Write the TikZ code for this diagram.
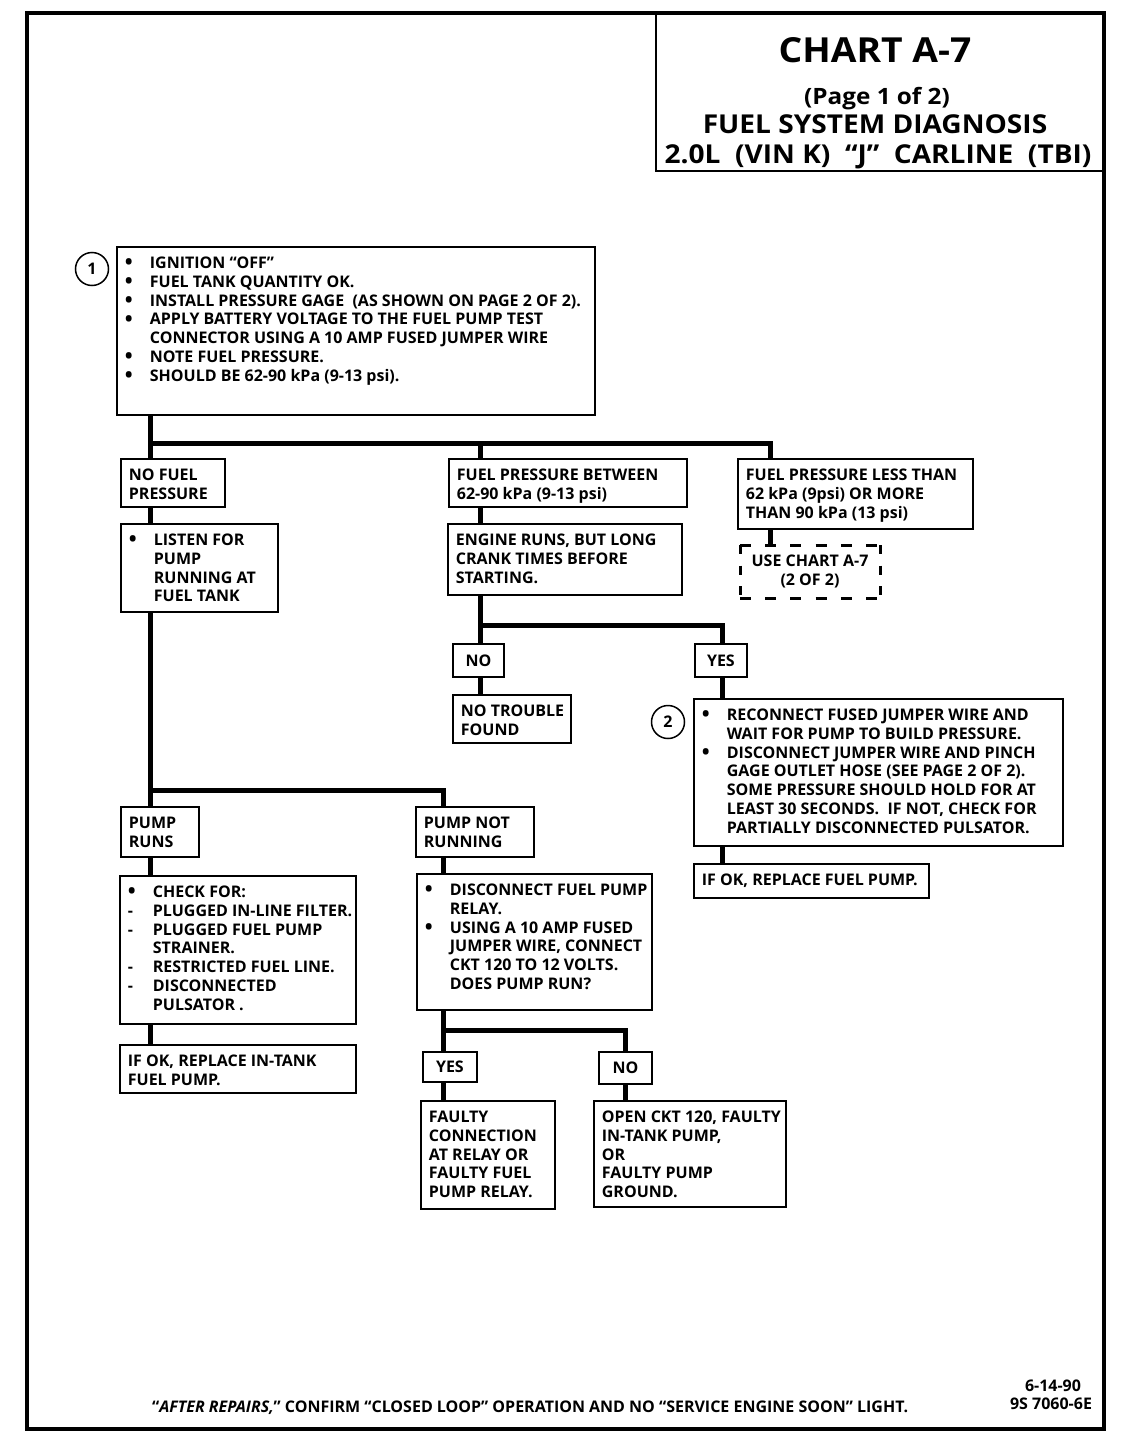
\documentclass[tikz,border=0pt]{standalone}
\usepackage{fontspec}
\setmainfont{Open Sans}
\newfontfamily\titlef{Open Sans}[FakeStretch=1.08]
\newcommand\bx[3]{\begin{minipage}[c][#2pt][t]{\dimexpr#1pt-16pt\relax}\vspace*{8.4pt}#3\end{minipage}}
\newcommand\plainlines[1]{\begin{tabular}{@{}l@{}}#1\end{tabular}}
\newcommand\bulllines[1]{\begin{tabular}{@{}p{25pt}@{}l@{}}#1\end{tabular}}
\newcommand\bul{\raisebox{-1.2pt}{\fontsize{21}{10}\selectfont\textbullet}}
\tikzset{
  box/.style={draw, line width=1.8pt, inner xsep=8pt, inner ysep=0pt, anchor=north west,
    font=\bfseries\fontsize{16}{18.8}\selectfont},
  tag/.style={draw, line width=1.8pt, inner sep=0pt, anchor=north west,
    font=\bfseries\fontsize{16}{18.8}\selectfont},
  dbox/.style={inner sep=0pt, outer sep=0pt, anchor=north west,
    align=center, font=\bfseries\fontsize{16}{18.8}\selectfont},
  dline/.style={line width=3pt, line cap=square},
  hdash/.style={dline, dash pattern=on 11pt off 14.2pt},
  vdash/.style={dline, dash pattern=on 9pt off 11.5pt},
  conn/.style={line width=5pt},
  numc/.style={draw, circle, line width=1.5pt, minimum size=33pt, inner sep=0pt,
    font=\bfseries\fontsize{16}{18}\selectfont},
  ttl/.style={anchor=base, inner sep=0pt},
  foottxt/.style={inner sep=0pt, font=\bfseries\fontsize{16}{18}\selectfont}
}
\begin{document}
\begin{tikzpicture}[x=1pt,y=-1pt]
\useasboundingbox (0,0) rectangle (1120,1456);
% frame
\draw[line width=4.5pt] (27,13) rectangle (1104,1429);
\node[draw, line width=1.8pt, minimum width=448pt, minimum height=157pt, anchor=north west, inner sep=0pt] (titlebox) at (655,13) {};
\node[ttl, font=\titlef\bfseries\fontsize{34.5}{36}\selectfont] (t1) at (875,62) {CHART A-7};
\node[ttl, font=\titlef\bfseries\fontsize{22.5}{24}\selectfont] (t2) at (877,104) {(Page 1 of 2)};
\node[ttl, font=\titlef\bfseries\fontsize{26}{28}\selectfont] (t3) at (875,133) {FUEL SYSTEM DIAGNOSIS};
\node[ttl, font=\titlef\bfseries\fontsize{26}{28}\selectfont] (t4) at (878,163) {2.0L\ \ (VIN K)\ \ “J”\ \ CARLINE\ \ (TBI)};

% boxes
\node[box] (b1) at (116,246) {\bx{478}{168}{\bulllines{\bul & IGNITION “OFF”\\
\bul & FUEL TANK QUANTITY OK.\\
\bul & INSTALL PRESSURE GAGE\ \ (AS SHOWN ON PAGE 2 OF 2).\\
\bul & APPLY BATTERY VOLTAGE TO THE FUEL PUMP TEST\\
 & CONNECTOR USING A 10 AMP FUSED JUMPER WIRE\\
\bul & NOTE FUEL PRESSURE.\\
\bul & SHOULD BE 62-90 kPa (9-13 psi).}}};
\node[numc] (c1) at (92,269) {1};

\node[box] (nofuel) at (120,458) {\bx{104}{48}{\plainlines{NO FUEL\\PRESSURE}}};
\node[box] (listen) at (120,523) {\bx{157}{88}{\bulllines{\bul & LISTEN FOR\\ & PUMP\\ & RUNNING AT\\ & FUEL TANK}}};
\node[box] (between) at (448,458) {\bx{238}{48}{\plainlines{FUEL PRESSURE BETWEEN\\62-90 kPa (9-13 psi)}}};
\node[box] (engine) at (447,523) {\bx{234}{71}{\plainlines{ENGINE RUNS, BUT LONG\\CRANK TIMES BEFORE\\STARTING.}}};
\node[box] (less) at (737,458) {\bx{235}{70}{\plainlines{FUEL PRESSURE LESS THAN\\62 kPa (9psi) OR MORE\\THAN 90 kPa (13 psi)}}};
\node[dbox, minimum width=140pt, minimum height=53pt] (usechart) at (740,545) {USE CHART A-7\\(2 OF 2)};
\draw[hdash] (usechart.north west) -- (usechart.north east);
\draw[hdash] (usechart.south west) -- (usechart.south east);
\draw[vdash] (usechart.north west) -- (usechart.south west);
\draw[vdash] (usechart.north east) -- (usechart.south east);

\node[tag, minimum width=51pt, minimum height=33pt] (no1) at (452,643) {NO};
\node[tag, minimum width=52pt, minimum height=33pt] (yes1) at (694,643) {YES};
\node[box] (notrouble) at (452,694) {\bx{118}{48}{\plainlines{NO TROUBLE\\FOUND}}};
\node[box] (b2) at (693,698) {\bx{369}{147}{\bulllines{\bul & RECONNECT FUSED JUMPER WIRE AND\\
 & WAIT FOR PUMP TO BUILD PRESSURE.\\
\bul & DISCONNECT JUMPER WIRE AND PINCH\\
 & GAGE OUTLET HOSE (SEE PAGE 2 OF 2).\\
 & SOME PRESSURE SHOULD HOLD FOR AT\\
 & LEAST 30 SECONDS.\ \ IF NOT, CHECK FOR\\
 & PARTIALLY DISCONNECTED PULSATOR.}}};
\node[numc] (c2) at (668,722) {2};
\node[box] (ifok1) at (693,863) {\bx{235}{34}{\plainlines{IF OK, REPLACE FUEL PUMP.}}};

\node[box] (pumpruns) at (120,806) {\bx{78}{50}{\plainlines{PUMP\\RUNS}}};
\node[box] (check) at (119,875) {\bx{236}{148}{\bulllines{\bul & CHECK FOR:\\
- & PLUGGED IN-LINE FILTER.\\
- & PLUGGED FUEL PUMP\\
 & STRAINER.\\
- & RESTRICTED FUEL LINE.\\
- & DISCONNECTED\\
 & PULSATOR .}}};
\node[box] (ifok2) at (119,1044) {\bx{236}{48}{\plainlines{IF OK, REPLACE IN-TANK\\FUEL PUMP.}}};

\node[box] (pnr) at (415,806) {\bx{118}{50}{\plainlines{PUMP NOT\\RUNNING}}};
\node[box] (disc) at (416,873) {\bx{235}{136}{\bulllines{\bul & DISCONNECT FUEL PUMP\\
 & RELAY.\\
\bul & USING A 10 AMP FUSED\\
 & JUMPER WIRE, CONNECT\\
 & CKT 120 TO 12 VOLTS.\\
 & DOES PUMP RUN?}}};
\node[tag, minimum width=54pt, minimum height=30pt] (yes2) at (422,1051) {YES};
\node[tag, minimum width=53pt, minimum height=32pt] (no2) at (598,1051) {NO};
\node[box] (faulty) at (420,1100) {\bx{134}{108}{\plainlines{FAULTY\\CONNECTION\\AT RELAY OR\\FAULTY FUEL\\PUMP RELAY.}}};
\node[box] (open) at (593,1100) {\bx{192}{106}{\plainlines{OPEN CKT 120, FAULTY\\IN-TANK PUMP,\\OR\\FAULTY PUMP\\GROUND.}}};

% connectors
\coordinate (ja) at (150,443); \coordinate (jb) at (480,443); \coordinate (jc) at (770,443);
\draw[conn] (b1.south -| ja) -- (nofuel.north -| ja);
\draw[conn] (ja) -- (jc) -- (less.north -| jc);
\draw[conn] (jb) -- (between.north -| jb);
\draw[conn] (nofuel.south -| ja) -- (listen.north -| ja);
\coordinate (jd) at (150,790); \coordinate (je) at (443,790);
\draw[conn] (listen.south -| jd) -- (pumpruns.north -| jd);
\draw[conn] (jd) -- (je) -- (pnr.north -| je);
\draw[conn] (pumpruns.south -| jd) -- (check.north -| jd);
\draw[conn] (check.south -| jd) -- (ifok2.north -| jd);
\draw[conn] (between.south -| jb) -- (engine.north -| jb);
\coordinate (jf) at (480,625); \coordinate (jg) at (722,625);
\draw[conn] (engine.south -| jf) -- (no1.north -| jf);
\draw[conn] (jf) -- (jg) -- (yes1.north -| jg);
\draw[conn] (no1.south -| jf) -- (notrouble.north -| jf);
\draw[conn] (yes1.south -| jg) -- (b2.north -| jg);
\draw[conn] (b2.south -| jg) -- (ifok1.north -| jg);
\draw[conn] (less.south -| jc) -- (usechart.north -| jc);
\draw[conn] (pnr.south -| je) -- (disc.north -| je);
\coordinate (jh) at (443,1030); \coordinate (ji) at (625,1030);
\draw[conn] (disc.south -| jh) -- (yes2.north -| jh);
\draw[conn] (jh) -- (ji) -- (no2.north -| ji);
\draw[conn] (yes2.south -| jh) -- (faulty.north -| jh);
\draw[conn] (no2.south -| ji) -- (open.north -| ji);

% footer
\node[foottxt, anchor=base west] (foot) at (152,1412)
  {“\textit{AFTER REPAIRS,}” CONFIRM “CLOSED LOOP” OPERATION AND NO “SERVICE ENGINE SOON” LIGHT.};
\node[foottxt, anchor=base] (date) at (1053,1391) {6-14-90};
\node[foottxt, anchor=base] (code) at (1051,1409) {9S 7060-6E};
\end{tikzpicture}
\end{document}
